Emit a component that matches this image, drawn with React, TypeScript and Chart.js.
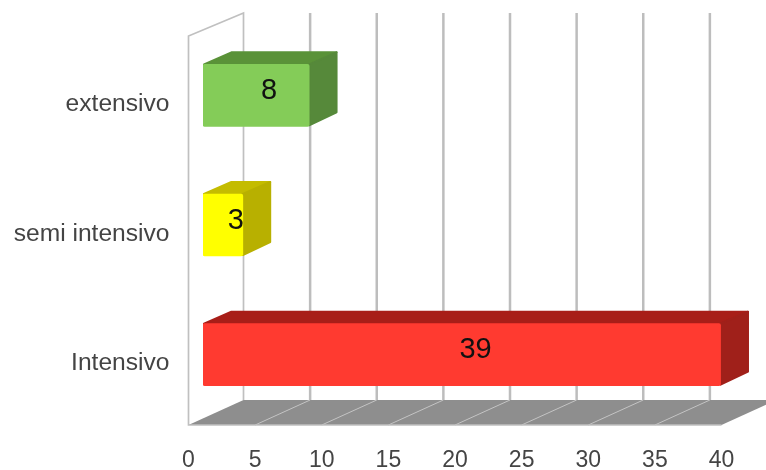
import React, { useEffect, useRef } from "react";
import { Chart, registerables } from "chart.js";

Chart.register(...registerables);

const categories = ["extensivo", "semi intensivo", "Intensivo"];
const values = [8, 3, 39];
const frontColors = ["#84cc58", "#ffff00", "#ff3a30"];
const topColors = ["#5a9238", "#c4bc00", "#a81e18"];
const sideColors = ["#56893a", "#b8b000", "#a0201a"];
const axisMax = 40;
const axisStep = 5;

const DEPTH_X = 55;
const DEPTH_Y = 25;
const BAR_DX = 14.5;
const BAR_DY = -5.5;
const BAR_SCALE = 0.996;
const BOX_DX = 28.5;
const BOX_DY = 13;

const threeD = {
  id: "threeD",
  beforeDatasetsDraw(chart: any) {
    const { ctx, chartArea: a, scales } = chart;
    const x = scales.x;
    const backTop = a.top - 23;
    const backBottom = a.bottom - DEPTH_Y;
    ctx.save();
    // floor
    ctx.fillStyle = "#8e8e8e";
    ctx.beginPath();
    ctx.moveTo(a.left, a.bottom);
    ctx.lineTo(a.right, a.bottom);
    ctx.lineTo(a.right + DEPTH_X, backBottom);
    ctx.lineTo(a.left + DEPTH_X, backBottom);
    ctx.closePath();
    ctx.fill();
    // floor lines and back grid
    for (let v = 0; v <= axisMax; v += axisStep) {
      const px = x.getPixelForValue(v);
      if (v > 0 && v < axisMax) {
        ctx.strokeStyle = "#c4c4c4";
        ctx.lineWidth = 1;
        ctx.beginPath();
        ctx.moveTo(px, a.bottom);
        ctx.lineTo(px + DEPTH_X, backBottom);
        ctx.stroke();
      }
      if (v > 0) {
        ctx.strokeStyle = "#bdbdbd";
        ctx.lineWidth = 2.5;
        ctx.beginPath();
        ctx.moveTo(px + DEPTH_X, backTop);
        ctx.lineTo(px + DEPTH_X, backBottom);
        ctx.stroke();
      }
    }
    // left wall
    ctx.strokeStyle = "#c0c0c0";
    ctx.lineWidth = 1.7;
    ctx.beginPath();
    ctx.moveTo(a.left + DEPTH_X, backBottom);
    ctx.lineTo(a.left + DEPTH_X, backTop);
    ctx.lineTo(a.left, a.top);
    ctx.lineTo(a.left, a.bottom);
    ctx.lineTo(a.right, a.bottom);
    ctx.stroke();
    ctx.restore();
  },
  beforeDatasetDraw(chart: any) {
    const { ctx, chartArea: a } = chart;
    const meta = chart.getDatasetMeta(0);
    ctx.save();
    ctx.translate(a.left + BAR_DX, BAR_DY);
    ctx.scale(BAR_SCALE, 1);
    ctx.translate(-a.left, 0);
    ctx.lineJoin = "round";
    ctx.lineWidth = 2;
    meta.data.forEach((bar: any, i: number) => {
      const top = bar.y - bar.height / 2;
      const bottom = bar.y + bar.height / 2;
      const left = bar.base;
      const right = bar.x;
      ctx.fillStyle = topColors[i];
      ctx.strokeStyle = topColors[i];
      ctx.beginPath();
      ctx.moveTo(left + 1, top);
      ctx.lineTo(left + BOX_DX, top - BOX_DY + 1);
      ctx.lineTo(right + BOX_DX - 1, top - BOX_DY + 1);
      ctx.lineTo(right, top);
      ctx.closePath();
      ctx.fill();
      ctx.stroke();
      ctx.fillStyle = sideColors[i];
      ctx.strokeStyle = sideColors[i];
      ctx.beginPath();
      ctx.moveTo(right, top);
      ctx.lineTo(right + BOX_DX - 1, top - BOX_DY + 1);
      ctx.lineTo(right + BOX_DX - 1, bottom - BOX_DY - 1);
      ctx.lineTo(right, bottom - 1);
      ctx.closePath();
      ctx.fill();
      ctx.stroke();
    });
  },
  afterDatasetDraw(chart: any) {
    chart.ctx.restore();
  },
  afterDatasetsDraw(chart: any) {
    const { ctx } = chart;
    const meta = chart.getDatasetMeta(0);
    ctx.save();
    ctx.fillStyle = "#111111";
    ctx.font = '29px "Liberation Sans"';
    ctx.textAlign = "center";
    ctx.textBaseline = "middle";
    meta.data.forEach((bar: any, i: number) => {
      const cx = (bar.base + bar.x + BOX_DX) / 2 + BAR_DX - 1.5;
      const cy = bar.y + BAR_DY - BOX_DY / 2 + 2;
      ctx.fillText(String(values[i]), cx, cy);
    });
    ctx.restore();
  },
};

export default function App() {
  const ref = useRef<HTMLCanvasElement>(null);
  useEffect(() => {
    const chart = new Chart(ref.current!, {
      type: "bar",
      data: {
        labels: categories,
        datasets: [
          {
            data: values,
            backgroundColor: frontColors,
            barThickness: 62,
            borderRadius: 2,
            borderSkipped: false,
          },
        ],
      },
      options: {
        indexAxis: "y",
        responsive: false,
        animation: false,
        devicePixelRatio: 1,
        layout: { padding: { top: 36, right: 44.5, left: 0, bottom: 0 } },
        plugins: { legend: { display: false }, tooltip: { enabled: false } },
        scales: {
          x: {
            min: 0,
            max: axisMax,
            grid: { display: false, drawTicks: false },
            border: { display: false },
            afterFit: (s: any) => {
              s.height = 45;
            },
            ticks: {
              stepSize: axisStep,
              maxRotation: 0,
              padding: 22,
              color: "#444444",
              font: { family: "Liberation Sans", size: 23 },
            },
          },
          y: {
            grid: { display: false, drawTicks: false },
            border: { display: false },
            afterFit: (s: any) => {
              s.width = 188.5;
            },
            ticks: {
              padding: 19,
              labelOffset: 3.5,
              color: "#444444",
              font: { family: "Liberation Sans", size: 24.6 },
            },
          },
        },
      },
      plugins: [threeD],
    } as any);
    return () => chart.destroy();
  }, []);
  return (
    <div style={{ position: "absolute", left: 0, top: 0, width: 766, height: 470 }}>
      <canvas ref={ref} width={766} height={470} style={{ filter: "blur(0.7px)" }} />
    </div>
  );
}
